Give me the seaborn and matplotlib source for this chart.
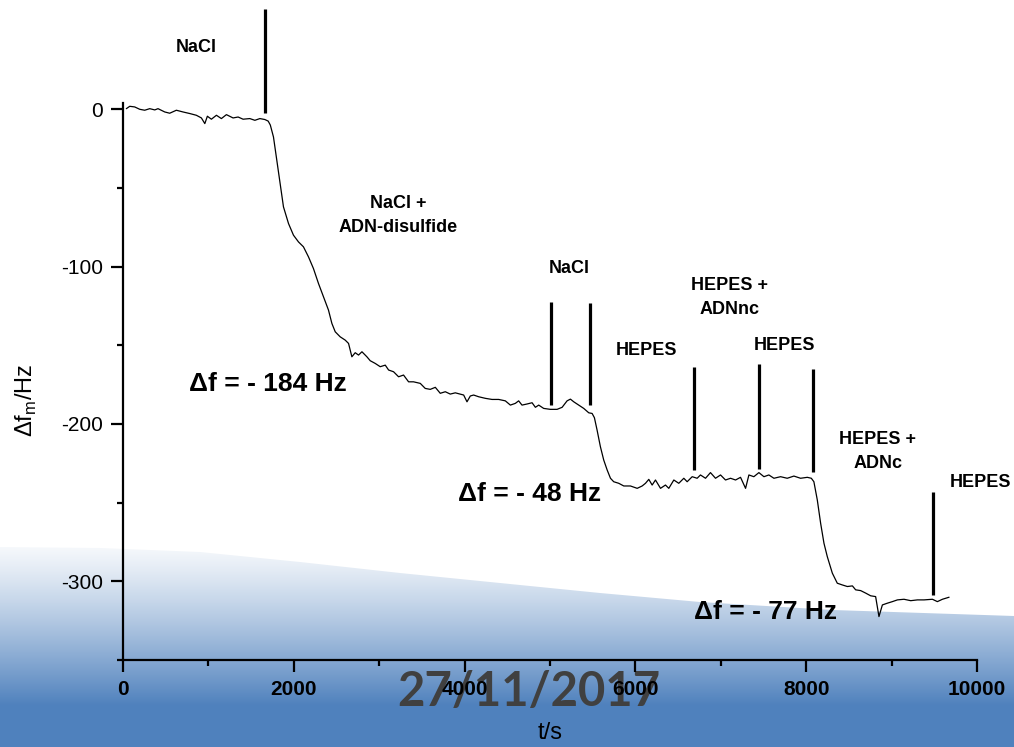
import numpy as np
import matplotlib
matplotlib.use("Agg")
import matplotlib.pyplot as plt
from matplotlib.ticker import MultipleLocator
import seaborn as sns

# ---------------- data ----------------
time_s = [39, 79, 137, 196, 254, 313, 372, 410, 489, 547, 625, 703, 782, 859, 918,
          958, 988, 1035, 1094, 1152, 1211, 1289, 1348, 1406, 1485, 1544, 1603, 1661,
          1700, 1725, 1762, 1801, 1840, 1879, 1938, 1996, 2055, 2113, 2172, 2230, 2289,
          2348, 2406, 2446, 2485, 2543, 2602, 2641, 2680, 2719, 2758, 2798, 2856, 2895,
          2953, 3012, 3071, 3110, 3168, 3227, 3285, 3344, 3402, 3481, 3539, 3598, 3657,
          3715, 3774, 3832, 3891, 3950, 3989, 4028, 4067, 4106, 4165, 4243, 4321, 4399,
          4477, 4536, 4594, 4633, 4672, 4731, 4790, 4829, 4868, 4926, 5004, 5083, 5142,
          5200, 5239, 5278, 5336, 5395, 5454, 5493, 5520, 5551, 5590, 5629, 5669, 5708,
          5746, 5805, 5864, 5942, 6021, 6079, 6118, 6157, 6196, 6235, 6294, 6352, 6391,
          6450, 6508, 6567, 6606, 6665, 6723, 6762, 6821, 6879, 6938, 6997, 7055, 7114,
          7173, 7231, 7290, 7329, 7387, 7446, 7505, 7563, 7622, 7700, 7778, 7856, 7934,
          8013, 8060, 8090, 8130, 8169, 8208, 8247, 8306, 8364, 8423, 8482, 8541, 8579,
          8638, 8697, 8755, 8813, 8852, 8892, 8950, 9009, 9068, 9145, 9224, 9302, 9380,
          9478, 9536, 9595, 9673]
delta_f = [0.4, 1.9, 1.5, 0.0, -0.6, 0.4, -0.4, 0.4, -1.7, -2.5, -0.6, -1.7, -2.7, -3.8, -5.5,
           -9.1, -4.4, -6.3, -3.8, -5.9, -3.4, -5.5, -4.9, -6.3, -5.9, -7.0, -5.9, -6.5,
           -7.5, -10.0, -17.6, -32.4, -47.2, -62.0, -72.6, -80.0, -84.3, -87.4, -93.8, -101.2, -110.7,
           -119.2, -127.6, -136.1, -141.4, -144.6, -146.7, -148.8, -157.3, -154.7, -156.2, -154.1, -157.3, -159.8,
           -161.5, -163.6, -162.6, -165.7, -166.8, -170.0, -168.9, -173.2, -173.2, -174.2, -177.4, -178.0, -176.7,
           -180.5, -179.5, -181.0, -180.2, -181.0, -181.6, -185.9, -182.2, -181.6, -182.7, -183.7, -184.4, -184.4,
           -185.3, -188.0, -186.9, -185.3, -188.0, -187.3, -186.5, -189.4, -188.0, -190.1, -190.7, -190.7, -189.4,
           -185.3, -184.2, -185.9, -188.0, -190.1, -192.9, -193.3, -196.0, -203.8, -214.4, -222.9, -229.2, -234.5,
           -236.7, -237.7, -239.4, -239.4, -240.9, -239.4, -237.7, -235.2, -238.8, -235.6, -240.9, -238.8, -240.9,
           -235.6, -237.7, -234.5, -236.7, -233.5, -234.5, -232.4, -234.5, -230.9, -234.5, -232.4, -235.6, -234.5,
           -235.6, -233.9, -240.9, -232.4, -233.5, -230.9, -233.5, -232.4, -234.5, -233.5, -234.5, -233.1, -234.5,
           -233.9, -234.5, -236.7, -248.3, -263.1, -275.8, -284.3, -294.8, -301.2, -302.3, -303.3, -302.9, -305.4,
           -305.9, -307.5, -309.2, -309.7, -322.4, -315.0, -313.9, -312.9, -311.8, -311.4, -312.3, -311.8, -311.8,
           -311.4, -312.9, -311.4, -310.1]

# injection markers
event_t = [1664, 5016, 5473, 6684, 7446, 8083, 9490]
event_top = [64, -122.5, -123, -163.8, -161.9, -165.1, -243]
event_bottom = [-2.5, -188, -188, -229.2, -228.6, -230.3, -308.6]

# solution labels
sol_labels = ["NaCl", "NaCl +\nADN-disulfide", "NaCl", "HEPES +\nADNnc", "HEPES",
              "HEPES", "HEPES +\nADNc", "HEPES"]
sol_t = [856, 3223, 5227, 7102, 6130, 7747, 8837, 10044]
sol_f = [39.4, -67.3, -101.5, -119.4, -153, -149.9, -217.5, -237.5]

shift_labels = ["\u0394f = - 184 Hz", "\u0394f = - 48 Hz", "\u0394f = - 77 Hz"]
shift_t = [1699, 4758, 7524]
shift_f = [-174.6, -244.5, -319.4]

xticks = [0, 2000, 4000, 6000, 8000, 10000]
yticks = [-300, -200, -100, 0]

# ---------------- style ----------------
sns.set_style("ticks")
plt.rcParams['font.family'] = ['Liberation Sans', 'DejaVu Sans']
plt.rcParams['axes.unicode_minus'] = False
plt.rcParams['mathtext.fontset'] = 'custom'
plt.rcParams['mathtext.rm'] = 'Liberation Sans'
for k in ['text.color', 'axes.labelcolor', 'xtick.color', 'ytick.color',
          'xtick.labelcolor', 'ytick.labelcolor', 'axes.edgecolor']:
    plt.rcParams[k] = 'black'

W, H = 1014, 747
fig = plt.figure(figsize=(W / 100, H / 100), dpi=100, facecolor='white')

# slide-like background
bg = fig.add_axes([0, 0, 1, 1], zorder=-10)
bg.set_xlim(0, W)
bg.set_ylim(H, 0)
bg.axis('off')
yy = np.arange(H)
tt = np.clip((yy - 530) / (705 - 530), 0, 1) ** 1.25
blue = np.array([79, 129, 189]) / 255.0
grad = (1 - tt)[:, None] * np.ones(3) + tt[:, None] * blue
grad_img = np.repeat(grad[:, None, :], 8, axis=1)
bg.imshow(grad_img, extent=(0, W, H, 0), aspect='auto', interpolation='nearest')
edge_x = [0, 100, 200, 300, 400, 500, 600, 700, 833, 1014]
edge_y = [547, 548, 552, 562, 573, 583, 593, 602, 610, 616]
bg.fill([0] + edge_x + [W], [0] + edge_y + [0], color='white', lw=0)
bg.text(529, 692, "27/11/2017", ha='center', va='center', fontsize=34,
        fontweight='bold', family=['Lato', 'DejaVu Sans'], color='#404040')

# main axes
ax = fig.add_axes([123 / W, 1 - 660 / H, 854 / W, 557 / H])
ax.patch.set_alpha(0)

sns.lineplot(x=time_s, y=delta_f, ax=ax, color='black', linewidth=0.9)
ax.vlines(event_t, event_bottom, event_top, colors='black', linewidth=2.3, clip_on=False)

for s, x, y in zip(sol_labels, sol_t, sol_f):
    ax.text(x, y, s, ha='center', va='center', fontsize=13, fontweight='bold',
            linespacing=1.55, clip_on=False, color='black')
for s, x, y in zip(shift_labels, shift_t, shift_f):
    ax.text(x, y, s, ha='center', va='center', fontsize=19, fontweight='bold',
            clip_on=False, color='black')

ax.set_xlim(0, 10000)
ax.set_ylim(-350, 4)
ax.set_xticks(xticks)
ax.set_yticks(yticks)
ax.xaxis.set_minor_locator(MultipleLocator(1000))
ax.yaxis.set_minor_locator(MultipleLocator(50))
sns.despine(ax=ax)
for sp in ['left', 'bottom']:
    ax.spines[sp].set_linewidth(1.6)
    ax.spines[sp].set_color('black')
ax.tick_params(which='major', direction='out', length=8.5, width=1.6, color='black',
               labelcolor='black', pad=6)
ax.tick_params(which='minor', direction='out', length=4.5, width=1.6, color='black')
ax.tick_params(axis='y', labelsize=15)
ax.tick_params(axis='x', labelsize=15)
for lab in ax.get_xticklabels():
    lab.set_fontweight('bold')

ax.set_xlabel("t/s", fontsize=17, va='center', color='black')
ax.set_ylabel("\u0394f$_\\mathregular{m}$/Hz", fontsize=17, va='center', color='black')
ax.xaxis.set_label_coords(0.5, (660 - 733) / 557)
ax.yaxis.set_label_coords((26 - 123) / 854, (660 - 400) / 557)

fig.savefig("out.png", dpi=100, facecolor='white')
